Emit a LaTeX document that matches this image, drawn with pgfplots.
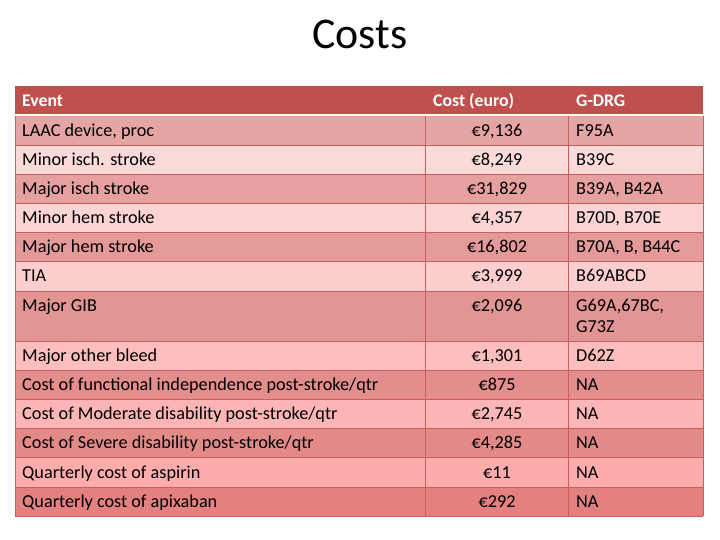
\documentclass[border=0pt]{standalone}
\usepackage{pgfplots}
\pgfplotsset{compat=1.18}
\usepackage{fontspec}
\setmainfont{Carlito}
\definecolor{hdr}{HTML}{C0504D}
\definecolor{gridc}{HTML}{C65F5D}
\definecolor{r1}{HTML}{E6A5A5}
\definecolor{r2}{HTML}{FBDADA}
\definecolor{r3}{HTML}{E5A09F}
\definecolor{r4}{HTML}{FCD4D4}
\definecolor{r5}{HTML}{E49A99}
\definecolor{r6}{HTML}{FDCECE}
\definecolor{r7}{HTML}{E39594}
\definecolor{r8}{HTML}{FEBEBE}
\definecolor{r9}{HTML}{E38E8D}
\definecolor{r10}{HTML}{FEB5B5}
\definecolor{r11}{HTML}{E38A89}
\definecolor{r12}{HTML}{FEACAC}
\definecolor{r13}{HTML}{E38180}
\newcommand{\cellfill}[3]{\addplot[fill=#3, draw=none, forget plot] coordinates {(15,#1) (703,#1) (703,#2) (15,#2)} -- cycle;}
\newcommand{\hgrid}[1]{\addplot[draw=gridc, line width=1bp, forget plot] coordinates {(15,#1) (703,#1)};}
\newcommand{\vgrid}[1]{\addplot[draw=gridc, line width=1bp, forget plot] coordinates {(#1,116.5) (#1,516)};}
\pgfplotsset{
  txt/.style={only marks, mark=*, mark size=0pt, mark options={draw=none,fill=none},
    point meta=explicit symbolic, nodes near coords, forget plot,
    every node near coord/.append style={inner sep=0pt, font=\fontsize{18.3}{21}\selectfont, text=black}},
}
\begin{document}
\begin{tikzpicture}
\begin{axis}[
  width=720bp, height=540bp, scale only axis,
  xmin=0, xmax=720, ymin=0, ymax=540, y dir=reverse,
  hide axis, clip=false,
]
% background
\addplot[fill=white, draw=none, forget plot] coordinates {(0,0) (720,0) (720,540) (0,540)} -- cycle;
% header
\cellfill{86}{114.5}{hdr}
% rows
\cellfill{116.5}{146}{r1}
\cellfill{146}{175}{r2}
\cellfill{175}{204}{r3}
\cellfill{204}{233}{r4}
\cellfill{233}{262}{r5}
\cellfill{262}{291}{r6}
\cellfill{291}{341}{r7}
\cellfill{341}{370}{r8}
\cellfill{370}{399}{r9}
\cellfill{399}{428}{r10}
\cellfill{428}{457}{r11}
\cellfill{457}{487}{r12}
\cellfill{487}{516}{r13}
% grid
\hgrid{146}\hgrid{175}\hgrid{204}\hgrid{233}\hgrid{262}\hgrid{291}
\hgrid{341}\hgrid{370}\hgrid{399}\hgrid{428}\hgrid{457}\hgrid{487}\hgrid{516}
\vgrid{15}\vgrid{425}\vgrid{568}\vgrid{703}
% title
\addplot[txt, every node near coord/.append style={anchor=base, font=\fontsize{44}{50}\selectfont}]
  coordinates {(360,49) [Costs]};
% header text
\addplot[txt, every node near coord/.append style={anchor=base west, text=white, font=\fontsize{17.8}{21}\selectfont\bfseries}]
  coordinates {(22,106.5) [Event] (433,106.5) [Cost (euro)] (576,106.5) [G-DRG]};
% column 1
\addplot[txt, every node near coord/.append style={anchor=base west}] coordinates {
  (22,136.5) [LAAC device, proc]
  (22,165.5) [Minor isch. stroke]
  (22,194.5) [Major isch stroke]
  (22,223.5) [Minor hem stroke]
  (22,252.5) [Major hem stroke]
  (22,281.5) [TIA]
  (22,311.5) [Major GIB]
  (22,361.5) [Major other bleed]
  (22,390.5) [Cost of functional independence post-stroke/qtr]
  (22,419.5) [Cost of Moderate disability post-stroke/qtr]
  (22,448.5) [Cost of Severe disability post-stroke/qtr]
  (22,478.5) [Quarterly cost of aspirin]
  (22,507.5) [Quarterly cost of apixaban]
};
% column 2
\addplot[txt, every node near coord/.append style={anchor=base}] coordinates {
  (497,136.5) [€9,136]
  (497,165.5) [€8,249]
  (497,194.5) [€31,829]
  (497,223.5) [€4,357]
  (497,252.5) [€16,802]
  (497,281.5) [€3,999]
  (497,311.5) [€2,096]
  (497,361.5) [€1,301]
  (497,390.5) [€875]
  (497,419.5) [€2,745]
  (497,448.5) [€4,285]
  (497,478.5) [€11]
  (497,507.5) [€292]
};
% column 3
\addplot[txt, every node near coord/.append style={anchor=base west}] coordinates {
  (576,136.5) [F95A]
  (576,165.5) [B39C]
  (576,194.5) [B39A, B42A]
  (576,223.5) [B70D, B70E]
  (576,252.5) [B70A, B, B44C]
  (576,281.5) [B69ABCD]
  (576,311.5) [G69A,67BC,]
  (576,332.5) [G73Z]
  (576,361.5) [D62Z]
  (576,390.5) [NA]
  (576,419.5) [NA]
  (576,448.5) [NA]
  (576,478.5) [NA]
  (576,507.5) [NA]
};
\end{axis}
\end{tikzpicture}
\end{document}
